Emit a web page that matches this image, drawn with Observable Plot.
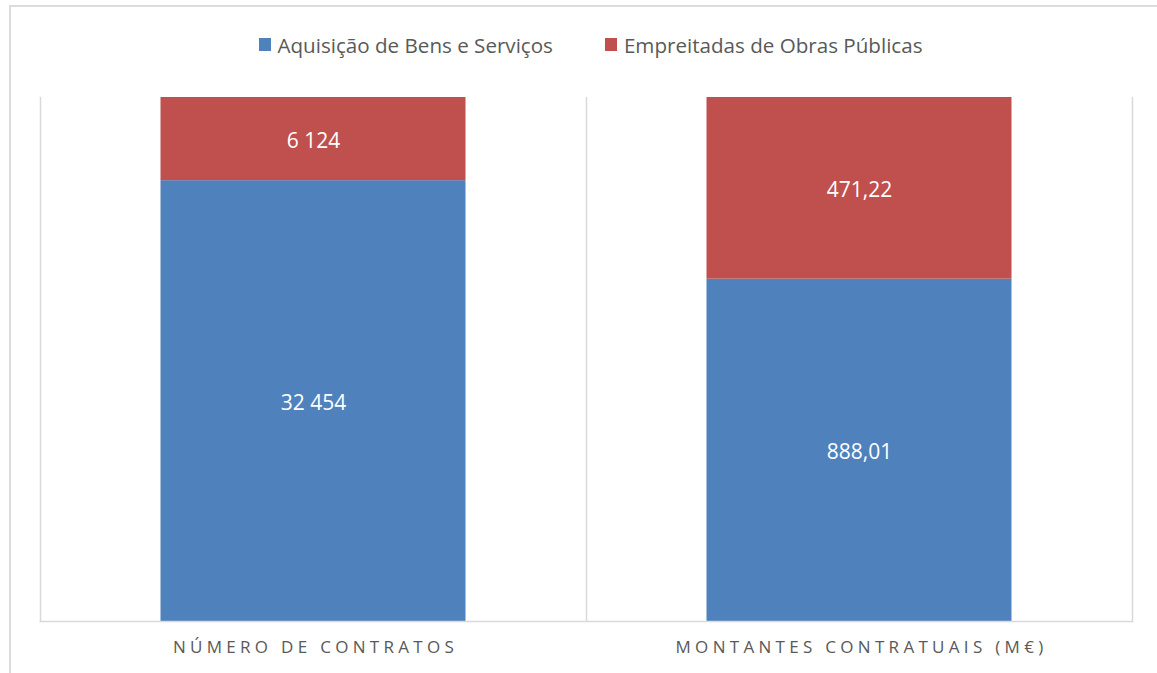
<!DOCTYPE html>
<html><head><meta charset="utf-8">
<script src="https://cdn.jsdelivr.net/npm/d3@7"></script>
<script src="https://cdn.jsdelivr.net/npm/@observablehq/plot@0.6"></script>
<style>
body{margin:0;background:#fff;font-family:"Open Sans",sans-serif;overflow:hidden;}
#frame{position:absolute;left:9px;top:5px;width:1300px;height:800px;border-left:2px solid #dcdcdc;border-top:2px solid #dcdcdc;pointer-events:none;}
#legend{box-sizing:border-box;height:70px;padding-top:19px;padding-left:24px;display:flex;justify-content:center;align-items:center;font-size:20.6px;color:#595959;}
.item{display:flex;align-items:center;}
.item + .item{margin-left:52px;}
.sw{width:12px;height:13px;margin-right:7px;}
#chart svg{display:block;}
.chart g[aria-label="x-axis tick label"] text{letter-spacing:4.3px;}
</style>
</head><body>
<div id="frame"></div>
<div id="legend"></div>
<div id="chart"></div>
<script>
const categories = ["NÚMERO DE CONTRATOS", "MONTANTES CONTRATUAIS (M€)"];
const seriesNames = ["Aquisição de Bens e Serviços", "Empreitadas de Obras Públicas"];
const aquisicao = [32454, 888.01];
const empreitadas = [6124, 471.22];
const valueFormats = [",d", ",.2f"];
const colors = ["#4F81BD", "#C0504D"];

const locale = d3.formatLocale({decimal: ",", thousands: " ", grouping: [3], currency: ["", "€"]});
const seriesValues = [aquisicao, empreitadas];
const data = [];
seriesNames.forEach((s, si) => {
  categories.forEach((c, ci) => {
    const v = seriesValues[si][ci];
    data.push({category: c, series: s, value: v, label: locale.format(valueFormats[ci])(v)});
  });
});

// legend
const legend = document.getElementById("legend");
seriesNames.forEach((s, i) => {
  const it = document.createElement("div");
  it.className = "item";
  const sw = document.createElement("span");
  sw.className = "sw";
  sw.style.background = colors[i];
  const tx = document.createElement("span");
  tx.textContent = s;
  it.appendChild(sw); it.appendChild(tx);
  legend.appendChild(it);
});

const W = 1157, H = 603, mL = 40, mR = 25;
const band = (W - mL - mR) / categories.length;
const grid = "#d9d9d9";

const chart = Plot.plot({
  width: W, height: H,
  marginTop: 27, marginBottom: 52, marginLeft: mL, marginRight: mR,
  className: "chart",
  style: {fontFamily: "Open Sans, sans-serif", background: "transparent"},
  x: {domain: categories, padding: 0, label: null},
  y: {domain: [0, 1], axis: null},
  color: {domain: seriesNames, range: colors},
  marks: [
    Plot.frame({anchor: "left", stroke: grid, strokeWidth: 1.5}),
    Plot.frame({anchor: "right", stroke: grid, strokeWidth: 1.5}),
    Plot.ruleX([categories[1]], {dx: -band / 2, stroke: grid, strokeWidth: 1.5}),
    Plot.barY(data, Plot.stackY({x: "category", y: "value", fill: "series", offset: "normalize", insetLeft: 120.5, insetRight: 120.5})),
    Plot.frame({anchor: "bottom", stroke: grid, strokeWidth: 1.5}),
    Plot.text(data, Plot.stackY({x: "category", y: "value", z: "series", offset: "normalize", text: "label", fill: "white", fontSize: 21, dy: 2})),
    Plot.axisX({tickSize: 0, tickPadding: 19, fontSize: 17, color: "#595959", label: null, dx: 2})
  ]
});
document.getElementById("chart").appendChild(chart);
</script>
</body></html>
